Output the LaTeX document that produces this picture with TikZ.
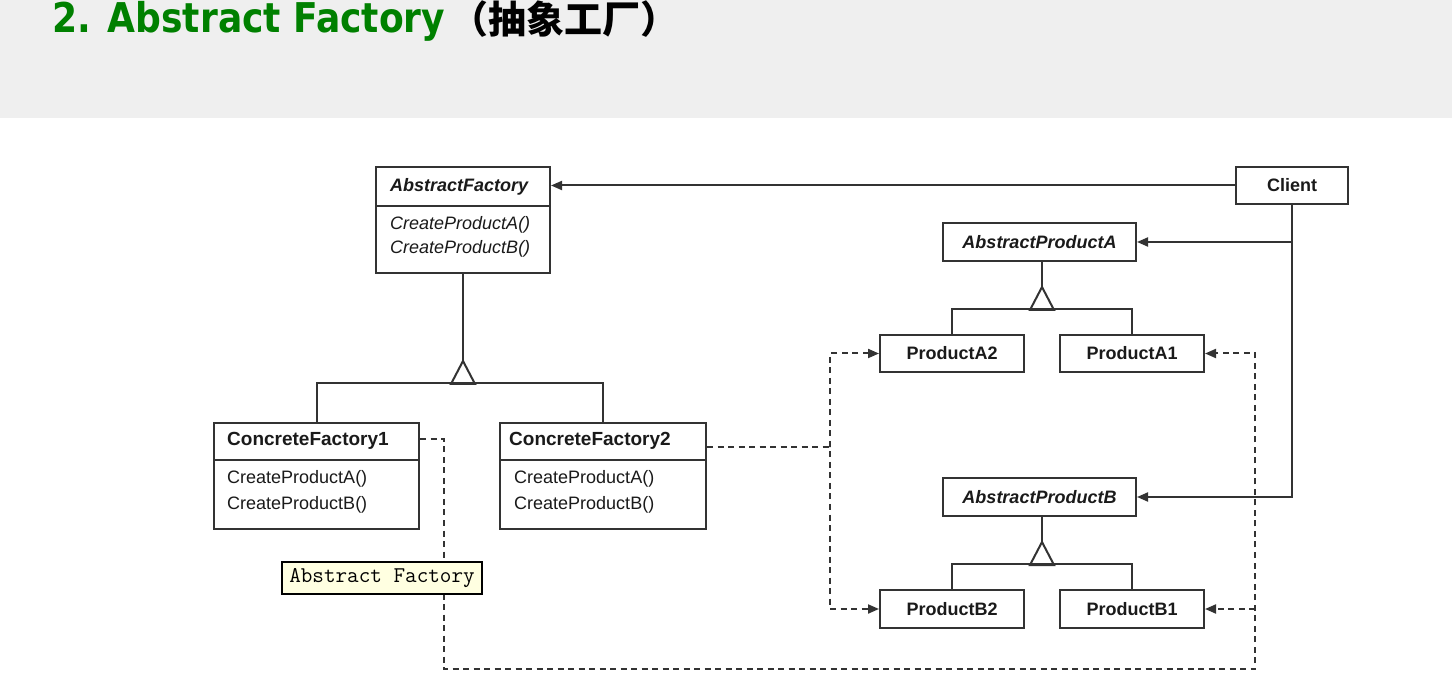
\documentclass[tikz,border=0pt]{standalone}
\usepackage{fontspec}
\usepackage{graphicx}
\setmainfont{Liberation Sans}
\newfontfamily\titlefont{DejaVu Sans}
\newfontfamily\cjk{Noto Sans CJK SC}
\usetikzlibrary{arrows.meta}
\definecolor{ln}{HTML}{333333}
\definecolor{bandgray}{HTML}{EFEFEF}
\definecolor{titlegreen}{HTML}{008000}
\definecolor{tipfill}{HTML}{FFFFE1}
\definecolor{txtc}{HTML}{1A1A1A}
\begin{document}
\begin{tikzpicture}[x=1pt,y=-1pt,
  cls/.style={draw=ln,line width=2pt,fill=white,inner sep=0pt,text=txtc,font=\fontsize{18}{20}\selectfont\bfseries},
  abs/.style={cls,font=\fontsize{18}{20}\selectfont\bfseries\itshape},
  txt/.style={inner sep=0pt,anchor=west,text=txtc,font=\fontsize{18}{20}\selectfont},
  conn/.style={draw=ln,line width=2pt},
  arr/.style={-{Triangle[length=11pt,width=9pt]}},
  dep/.style={conn,dash pattern=on 6pt off 4.5pt},
]
\useasboundingbox (0,0) rectangle (1452,700);
\fill[white] (0,0) rectangle (1452,700);
\fill[bandgray] (0,0) rectangle (1452,118);

% title
\node[anchor=base west,inner sep=0pt,text=titlegreen] (title) at (52,33)
  {\scalebox{0.88}[1]{\titlefont\bfseries\fontsize{41}{41}\selectfont 2. Abstract Factory}};
\node[anchor=base west,inner sep=0pt,text=black] (cjktitle) at (450,34)
  {\cjk\bfseries\fontsize{38}{38}\selectfont （抽象工厂）};

% class boxes
\node[cls,minimum width=174pt,minimum height=106pt] (af) at (463,220) {};
\draw[conn] (af.west |- 0,206) -- (af.east |- 0,206);
\node[txt,font=\fontsize{18}{20}\selectfont\bfseries\itshape] (aft) at (390,187) {AbstractFactory};
\node[txt,font=\fontsize{18}{20}\selectfont\itshape] (afm1) at (390,225) {CreateProductA()};
\node[txt,font=\fontsize{18}{20}\selectfont\itshape] (afm2) at (390,249) {CreateProductB()};

\node[cls,minimum width=205pt,minimum height=106pt] (cf1) at (316.5,476) {};
\draw[conn] (cf1.west |- 0,460) -- (cf1.east |- 0,460);
\node[txt,font=\fontsize{19}{21}\selectfont\bfseries] (cf1t) at (227,441) {ConcreteFactory1};
\node[txt] (cf1m1) at (227,479) {CreateProductA()};
\node[txt] (cf1m2) at (227,505) {CreateProductB()};

\node[cls,minimum width=206pt,minimum height=106pt] (cf2) at (603,476) {};
\draw[conn] (cf2.west |- 0,460) -- (cf2.east |- 0,460);
\node[txt,font=\fontsize{19}{21}\selectfont\bfseries] (cf2t) at (509,441) {ConcreteFactory2};
\node[txt] (cf2m1) at (514,479) {CreateProductA()};
\node[txt] (cf2m2) at (514,505) {CreateProductB()};

\node[cls,minimum width=112pt,minimum height=37pt] (client) at (1292,185.5) {Client};
\node[abs,minimum width=193pt,minimum height=38pt] (apa) at (1039.5,242) {AbstractProductA};
\node[cls,minimum width=144pt,minimum height=37pt] (pa2) at (952,353.5) {ProductA2};
\node[cls,minimum width=144pt,minimum height=37pt] (pa1) at (1132,353.5) {ProductA1};
\node[abs,minimum width=193pt,minimum height=38pt] (apb) at (1039.5,497) {AbstractProductB};
\node[cls,minimum width=144pt,minimum height=38pt] (pb2) at (952,609) {ProductB2};
\node[cls,minimum width=144pt,minimum height=38pt] (pb1) at (1132,609) {ProductB1};

% inheritance: AbstractFactory
\coordinate (ta) at (463,361);
\draw[conn] (af.south) -- (ta);
\draw[conn,line join=miter] (ta) -- ++(-12,23) -- ++(24,0) -- cycle;
\draw[conn] (cf1.north) -- ++(0,-39) -| (cf2.north);

% inheritance: AbstractProductA
\coordinate (tpa) at (1042,287);
\draw[conn] (tpa |- apa.south) -- (tpa);
\draw[conn,line join=miter] (tpa) -- ++(-12,23) -- ++(24,0) -- cycle;
\draw[conn] (pa2.north) -- ++(0,-25) -| (pa1.north);

% inheritance: AbstractProductB
\coordinate (tpb) at (1042,542);
\draw[conn] (tpb |- apb.south) -- (tpb);
\draw[conn,line join=miter] (tpb) -- ++(-12,23) -- ++(24,0) -- cycle;
\draw[conn] (pb2.north) -- ++(0,-25) -| (pb1.north);

% client associations
\draw[conn,arr] (client.west) -- (client.west -| af.east);
\draw[conn,arr] (client.south) |- (apb.east);
\draw[conn,arr] (client.south |- apa.east) -- (apa.east);

% dependencies from ConcreteFactory2
\coordinate (d2) at (830,447);
\draw[dep] (d2 -| cf2.east) -- (d2);
\draw[dep,{Triangle[length=11pt,width=9pt]}-{Triangle[length=11pt,width=9pt]}] (pa2.west) -| (d2) |- (pb2.west);

% dependencies from ConcreteFactory1
\coordinate (d0) at (444,439);
\coordinate (d1) at (444,669);
\coordinate (d3) at (1255,669);
\draw[dep,arr] (d0 -| cf1.east) -- (d0) -- (d1) -- (d3) |- (pa1.east);
\draw[dep,arr] (d3 |- pb1.east) -- (pb1.east);

% tooltip
\node[draw=black,line width=1.6pt,fill=tipfill,minimum width=200pt,minimum height=32pt,inner sep=0pt,
  font=\ttfamily\fontsize{22.5}{24}\selectfont] (tip) at (382,578) {Abstract Factory};
\end{tikzpicture}
\end{document}
